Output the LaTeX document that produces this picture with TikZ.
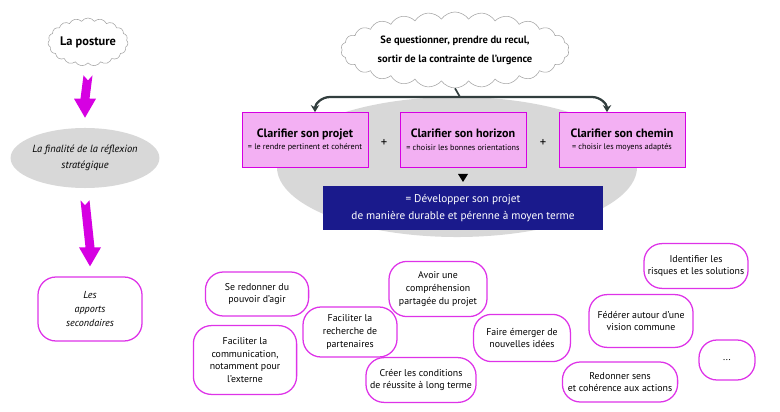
\documentclass[tikz,border=0pt]{standalone}
\usepackage{fontspec}
\setmainfont{PT Sans}
\usetikzlibrary{shapes,calc,arrows.meta}
\definecolor{fuchsia}{RGB}{214,0,226}
\definecolor{rose}{RGB}{243,176,243}
\definecolor{grisclair}{RGB}{216,216,216}
\definecolor{marine}{RGB}{26,26,140}
\definecolor{ardoise}{RGB}{50,62,62}
\newcommand{\petit}{\fontsize{7}{9}\selectfont}
\newcommand{\titre}{\fontsize{8.6}{10}\selectfont\bfseries}
\newcommand{\sous}{\fontsize{5.8}{7}\selectfont}
% grosse fleche magenta entre deux noeuds
\newcommand{\fleche}[2]{%
\path ($(#1.south)+(0,12)$) coordinate (ft) ($(#2.north)+(0,-10)$) coordinate (fb);
\fill[fuchsia] ($(ft)+(-4.5,0)$)--($(ft)+(0,5)$)--($(ft)+(4.5,0)$)--($(fb)+(4.5,-19)$)--($(fb)+(11,-19)$)
  --(fb)--($(fb)+(-11,-19)$)--($(fb)+(-4.5,-19)$)--cycle;}

\begin{document}
\begin{tikzpicture}[x=0.025cm,y=-0.025cm,
  nuage/.style={cloud,cloud ignores aspect,cloud puffs=19,cloud puff arc=110,draw=gray!70,fill=white,align=center,inner sep=0pt},
  bulle/.style={draw=fuchsia!80,line width=0.9pt,rounded corners=0.45cm,fill=white,align=center,font=\petit,inner sep=2pt},
  cadre/.style={draw=fuchsia,fill=rose,minimum width=3.15cm,minimum height=1.38cm,align=center,inner sep=1pt},
  accolade/.style={draw=ardoise,line width=1.6pt,-{Stealth[length=5pt,width=6pt]}}]
\useasboundingbox (0,0) rectangle (780,412);

% colonne de gauche
\node[nuage,minimum width=2cm,minimum height=1.2cm,font=\fontsize{8.8}{10}\selectfont\bfseries] (posture) at (88,42) {La posture};
\node[ellipse,fill=grisclair,minimum width=3.4cm,minimum height=1.5cm,align=center,inner sep=0pt,
  font=\fontsize{7.4}{11}\selectfont\itshape] (finalite) at (85,158) {La finalité de la réflexion\\stratégique};
\node[bulle,minimum width=2.6cm,minimum height=1.6cm,font=\fontsize{7.2}{10}\selectfont\itshape] (apports) at (90,309) {Les\\apports\\secondaires};
\fleche{posture}{finalite}
\fleche{finalite}{apports}

% bloc central
\node[ellipse,fill=grisclair,minimum width=9cm,minimum height=3.5cm] (fond) at (457,167) {};
\node[nuage,minimum width=5.7cm,minimum height=1.9cm,cloud puffs=26,font=\fontsize{7.5}{13.5}\selectfont\bfseries] (question) at (455,50)
  {Se questionner, prendre du recul,\\sortir de la contrainte de l'urgence};
\node[cadre] (projet) at (305,140) {{\titre Clarifier son projet}\\[-3pt]{\sous = le rendre pertinent et cohérent}};
\node[cadre] (horizon) at (463,140) {{\titre Clarifier son horizon}\\[-3pt]{\sous = choisir les bonnes orientations}};
\node[cadre] (chemin) at (622,140) {{\titre Clarifier son chemin}\\[-3pt]{\sous = choisir les moyens adaptés}};
\node[font=\small] (plus1) at (384,143) {+};
\node[font=\small] (plus2) at (543,143) {+};
\node[fill=marine,text=white,minimum width=7cm,minimum height=1.08cm,align=center,
  font=\fontsize{8}{12}\selectfont] (developper) at (463,208)
  {= Développer son projet\\de manière durable et pérenne à moyen terme};
\fill (458,174)--(468,174)--(463,182)--cycle;

\coordinate (fourche) at (460,97);
\draw[accolade] (fourche)--(330,97) to[out=180,in=90] ($(projet.north)+(10,0)$);
\draw[accolade] (fourche)--(592,97) to[out=0,in=90] ($(chemin.north)+(-15,0)$);
\draw[ardoise,line width=1.2pt] (question.south)--(fourche);

% les apports
\node[bulle,minimum width=2.58cm,minimum height=1.1cm] (agir) at (257,294) {Se redonner du\\pouvoir d'agir};
\node[bulle,minimum width=2.58cm,minimum height=1.72cm] (communication) at (245,360) {Faciliter la\\communication,\\notamment pour\\l'externe};
\node[bulle,minimum width=2.35cm,minimum height=1.25cm] (partenaires) at (350,332) {Faciliter la\\recherche de\\partenaires};
\node[bulle,minimum width=2.45cm,minimum height=1.38cm] (comprehension) at (438,289) {Avoir une\\compréhension\\partagée du projet};
\node[bulle,minimum width=2.75cm,minimum height=1.12cm] (conditions) at (421,380) {Créer les conditions\\de réussite à long terme};
\node[bulle,minimum width=2.42cm,minimum height=1.18cm] (idees) at (522,338) {Faire émerger de\\nouvelles idées};
\node[bulle,minimum width=2.6cm,minimum height=1.12cm] (risques) at (696,266) {Identifier les\\risques et les solutions};
\node[bulle,minimum width=2.6cm,minimum height=1.32cm] (federer) at (641,321) {Fédérer autour d'une\\vision commune};
\node[bulle,minimum width=2.88cm,minimum height=1cm] (sens) at (620,382) {Redonner sens\\et cohérence aux actions};
\node[bulle,minimum width=1.4cm,minimum height=1cm] (etc) at (727,360) {...};
\end{tikzpicture}
\end{document}
